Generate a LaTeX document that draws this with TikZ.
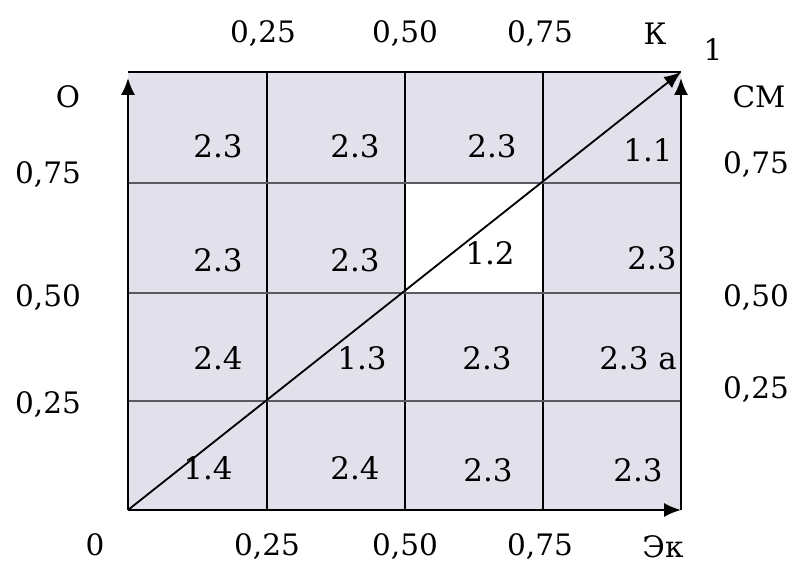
\documentclass[tikz,border=0pt]{standalone}
\usepackage{fontspec}
\setmainfont{DejaVu Serif}
\newfontfamily\timesfont{DejaVu Serif}
\usetikzlibrary{arrows.meta}
\definecolor{cellgray}{HTML}{E2E1EB}
\definecolor{rulegray}{HTML}{5A5A60}

\begin{document}
\begin{tikzpicture}[x=0.025cm,y=-0.025cm,
    lbl/.style={font=\timesfont\fontsize{21}{25}\selectfont,inner sep=0pt},
    cellnum/.style={font=\timesfont\fontsize{22}{26}\selectfont,inner sep=0pt},
    axis/.style={line width=1.6pt,-{Latex[length=12pt,width=10pt]}}]
  \useasboundingbox (0,0) rectangle (795,564);
  % corners of the square
  \coordinate (zero) at (128,510);
  \coordinate (one) at (681,72);
  \coordinate (tl) at (128,72);
  \coordinate (br) at (681,510);
  \fill[cellgray] (zero) rectangle (one);
  \fill[white] (405,183) rectangle (543,293);
  % grid
  \foreach \x in {267,405,543} \draw[line width=1.1pt] (\x,72) -- (\x,510);
  \foreach \y in {183,293,401} \draw[line width=1.6pt,rulegray] (128,\y) -- (681,\y);
  % frame and axes
  \draw[line width=1.6pt] (tl) -- (one);
  \draw[axis] (zero) -- (128,78);
  \draw[axis] (zero) -- (br);
  \draw[axis] (br) -- (681,78);
  \draw[line width=1.3pt,-{Latex[length=12pt,width=10pt]}] (zero) -- (one);
  % scale labels
  \foreach \x/\t [count=\i] in {263/0{,}25,405/0{,}50,540/0{,}75}
    \node[lbl] (top\i) at (\x,34) {\t};
  \foreach \x/\t [count=\i] in {267/0{,}25,405/0{,}50,540/0{,}75}
    \node[lbl] (bot\i) at (\x,547) {\t};
  \foreach \y/\t [count=\i] in {175/0{,}75,298/0{,}50,405/0{,}25}
    \node[lbl] (lft\i) at (48,\y) {\t};
  \foreach \y/\t [count=\i] in {165/0{,}75,298/0{,}50,390/0{,}25}
    \node[lbl] (rgt\i) at (756,\y) {\t};
  \node[lbl] (k) at (655,34) {К};
  \node[lbl] (onelbl) at (713,50) {1};
  \node[lbl] (o) at (68,97) {О};
  \node[lbl] (sm) at (759,97) {СМ};
  \node[lbl] (zerolbl) at (95,545) {0};
  \node[lbl] (ek) at (663,547) {Эк};
  % cell codes
  \foreach \x/\y/\t [count=\i] in {
      218/146/2.3, 355/146/2.3, 492/146/2.3, 648/150/1.1,
      218/260/2.3, 355/260/2.3, 490/253/1.2, 652/258/2.3,
      218/358/2.4, 362/358/1.3, 487/358/2.3, 638/358/2.3 а,
      208/468/1.4, 355/468/2.4, 488/470/2.3, 638/470/2.3}
    \node[cellnum] (c\i) at (\x,\y) {\t};
\end{tikzpicture}
\end{document}
